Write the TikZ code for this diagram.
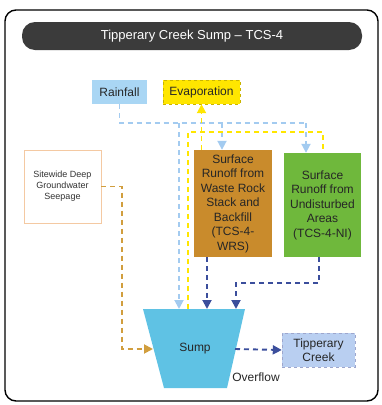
\documentclass[tikz,border=0pt]{standalone}
\usepackage{fontspec}
\setmainfont{Liberation Sans}
\usepackage{tikz}
\usetikzlibrary{arrows.meta,positioning,calc}
\definecolor{TitleGrey}{HTML}{3B3B3B}
\definecolor{RainBlue}{HTML}{A9D6F4}
\definecolor{RainLine}{HTML}{A3CBF0}
\definecolor{EvapYellow}{HTML}{FFE600}
\definecolor{EvapEdge}{HTML}{C9B400}
\definecolor{RockBrown}{HTML}{C98B2C}
\definecolor{GrassGreen}{HTML}{6FB83C}
\definecolor{SumpCyan}{HTML}{5FC2E4}
\definecolor{CreekBlue}{HTML}{B9CFF1}
\definecolor{FlowBlue}{HTML}{3B4E9C}
\definecolor{SeepOrange}{HTML}{D19E3E}
\definecolor{SeepEdge}{HTML}{F4C9A2}

\begin{document}
\begin{tikzpicture}[x=1pt,y=-1pt,
    txt/.style={font=\fontsize{12}{14.5}\selectfont,align=center,text=black!85},
    srcbox/.style={txt,minimum height=24,inner sep=1pt},
    runoff/.style={txt,draw=none,inner sep=1pt},
    flow/.style={line width=1.9pt,dash pattern=on 5pt off 4pt},
    tip/.style={-{Triangle[length=9pt,width=9pt]}}]
  \useasboundingbox (0,0) rectangle (382,405);
  % frame and heading
  \draw[line width=1.4pt,rounded corners=11] (5,10) rectangle (378,401);
  \node[fill=TitleGrey,rounded corners=13,minimum width=340,minimum height=28,
        text=white,font=\fontsize{13}{15}\selectfont] (title) at (192,36) {Tipperary Creek Sump -- TCS-4};
  % boxes
  \node[srcbox,fill=RainBlue,minimum width=55] (rain) at (119.5,92) {Rainfall};
  \node[srcbox,fill=EvapYellow,draw=EvapEdge,dashed,thin,minimum width=77] (evap) at (201.5,92) {Evaporation};
  \node[runoff,fill=RockBrown,minimum width=78,minimum height=107] (wrs) at (233,203.5)
    {Surface\\Runoff from\\Waste Rock\\Stack and\\Backfill\\(TCS-4-\\WRS)};
  \node[runoff,fill=GrassGreen,minimum width=77,minimum height=104] (ni) at (322.5,205)
    {Surface\\Runoff from\\Undisturbed\\Areas\\(TCS-4-NI)};
  \node[draw=SeepEdge,thin,fill=white,minimum width=77,minimum height=73,align=center,
        text=black!80,font=\fontsize{9}{11}\selectfont] (seep) at (62.5,186.5)
    {Sitewide Deep\\Groundwater\\Seepage};
  \node[txt,fill=CreekBlue,draw=FlowBlue!50,dashed,thin,minimum width=73,minimum height=34,inner sep=1pt] (creek) at (318.5,350)
    {Tipperary\\Creek};
  \fill[SumpCyan] (143,309) coordinate (sumpTL) -- (245,309) -- (227,388) -- (164,388) -- cycle;
  \node[txt] (sump) at (195,349) {Sump};
  \node[txt] (over) at (256,377) {Overflow};
  \coordinate (sumpL) at (153,349);
  \coordinate (sumpR) at (235,349);
  % rainfall
  \coordinate (rainS) at (179,123);
  \coordinate (rainW) at (222,123);
  \coordinate (rainN) at (306,123);
  \draw[flow,RainLine] (rain.south) |- (rainN);
  \draw[flow,RainLine,tip] (rainN) -- (rainN |- ni.north);
  \draw[flow,RainLine,tip] (rainW) -- (rainW |- wrs.north);
  \draw[flow,RainLine,tip] (rainS) -- (rainS |- sumpTL);
  % evaporation
  \coordinate (evapL) at (188,132);
  \coordinate (evapR) at (323,132);
  \draw[flow,EvapYellow] (evapL |- sumpTL) -- (evapL) -- (evapR) -- (evapR |- ni.north);
  \draw[flow,EvapYellow,tip] (evap.south |- wrs.north) -- (evap.south);
  % runoff to sump
  \coordinate (wrsOut) at (207,257);
  \coordinate (niOut) at (319,257);
  \coordinate (niBend) at (236,283);
  \draw[flow,FlowBlue,tip] (wrsOut) -- (wrsOut |- sumpTL);
  \draw[flow,FlowBlue,tip] (niOut) |- (niBend) -- (niBend |- sumpTL);
  % seepage
  \coordinate (seepBend) at (122,349);
  \draw[flow,SeepOrange,tip] (seep.east) -| (seepBend) -- (sumpL);
  % overflow
  \draw[flow,FlowBlue,tip] (sumpR) -- (creek.west);
\end{tikzpicture}
\end{document}
